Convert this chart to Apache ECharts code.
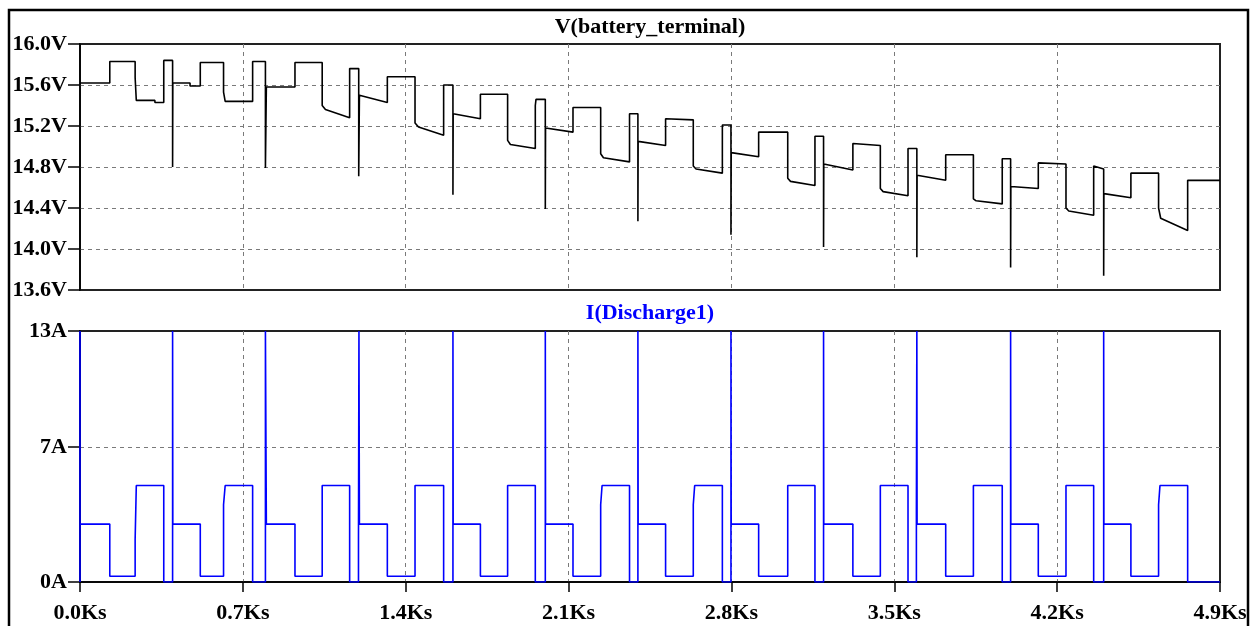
<!DOCTYPE html>
<html>
<head>
<meta charset="utf-8">
<title>Battery terminal voltage and discharge current</title>
<script src="https://cdn.jsdelivr.net/npm/echarts@6/dist/echarts.min.js"></script>
<style>
  html, body { margin: 0; padding: 0; background: #fff; }
  #chart { width: 1252px; height: 626px; }
</style>
</head>
<body>
<div id="chart"></div>
<script>
// Time axis (seconds) and its labels
const timeTicks = [0, 700, 1400, 2100, 2800, 3500, 4200, 4900];
const timeTickLabels = ['0.0Ks', '0.7Ks', '1.4Ks', '2.1Ks', '2.8Ks', '3.5Ks', '4.2Ks', '4.9Ks'];
const voltTickLabels = ['13.6V', '14.0V', '14.4V', '14.8V', '15.2V', '15.6V', '16.0V'];
const ampTicks = [0, 7, 13];
const ampTickLabels = ['0A', '7A', '13A'];

// V(battery_terminal): [time s, volts]
const batteryVoltage = [
  [0,15.62],[128,15.62],[128,15.83],[237,15.83],[237,15.67],[242,15.67],[242,15.45],[322,15.45],[322,15.43],[360,15.43],[360,15.84],[398,15.84],[398,14.80],[399,15.62],
  [473,15.62],[473,15.59],[517,15.59],[517,15.82],[617,15.82],[617,15.53],[624,15.53],[624,15.44],[742,15.44],[742,15.83],[797,15.83],[797,14.79],[801,14.79],[801,15.58],
  [924,15.58],[924,15.82],[1041,15.82],[1041,15.40],[1055,15.36],[1159,15.28],[1159,15.76],[1198,15.76],[1198,14.71],[1201,15.50],
  [1321,15.43],[1321,15.68],[1440,15.68],[1440,15.23],[1455,15.19],[1563,15.11],[1563,15.60],[1603,15.60],[1603,14.53],[1604,15.32],
  [1721,15.27],[1721,15.51],[1838,15.51],[1838,15.06],[1850,15.02],[1957,14.98],[1957,15.40],[1960,15.40],[1960,15.46],[2000,15.46],[2000,14.39],[2001,15.18],
  [2119,15.14],[2119,15.38],[2238,15.38],[2238,14.93],[2250,14.89],[2362,14.85],[2362,15.32],[2398,15.32],[2398,14.27],[2399,15.05],
  [2517,15.01],[2517,15.27],[2636,15.26],[2636,14.81],[2648,14.78],[2761,14.74],[2761,15.21],[2798,15.21],[2798,14.14],[2799,14.94],
  [2917,14.90],[2917,15.14],[3042,15.14],[3042,14.69],[3054,14.66],[3159,14.62],[3159,15.10],[3196,15.10],[3196,14.02],[3197,14.83],
  [3322,14.77],[3322,15.03],[3440,15.01],[3440,14.59],[3452,14.56],[3559,14.52],[3559,14.98],[3597,14.98],[3597,13.92],[3598,14.72],
  [3721,14.67],[3721,14.92],[3840,14.92],[3840,14.49],[3852,14.47],[3964,14.44],[3964,14.88],[4000,14.88],[4000,13.82],[4001,14.61],
  [4119,14.59],[4119,14.84],[4238,14.83],[4238,14.40],[4250,14.37],[4357,14.33],[4357,14.81],[4400,14.78],[4400,13.74],[4401,14.54],
  [4517,14.50],[4517,14.74],[4636,14.74],[4636,14.40],[4645,14.30],[4761,14.18],[4761,14.67],[4900,14.67]
];

// I(Discharge1): [time s, amps]
const dischargeCurrent = [
  [0,0],[0,13],[0,3],[128,3],[128,0.3],[237,0.3],[237,2.2],[242,2.2],[242,5],[360,5],[360,0],[398,0],[398,13],[399,3],
  [517,3],[517,0.3],[617,0.3],[617,4],[624,4],[624,5],[742,5],[742,0],[797,0],[797,13],[801,13],[801,3],
  [924,3],[924,0.3],[1041,0.3],[1041,5],[1159,5],[1159,0],[1197,0],[1197,2.3],[1199,2.3],[1199,13],[1201,3],
  [1321,3],[1321,0.3],[1440,0.3],[1440,5],[1563,5],[1563,0],[1603,0],[1603,13],[1604,3],
  [1721,3],[1721,0.3],[1838,0.3],[1838,5],[1957,5],[1957,0],[2000,0],[2000,13],[2001,3],
  [2119,3],[2119,0.3],[2238,0.3],[2238,4],[2244,4],[2244,5],[2362,5],[2362,0],[2398,0],[2398,13],[2399,3],
  [2517,3],[2517,0.3],[2636,0.3],[2636,4],[2642,4],[2642,5],[2761,5],[2761,0],[2798,0],[2798,13],[2799,3],
  [2917,3],[2917,0.3],[3042,0.3],[3042,5],[3159,5],[3159,0],[3196,0],[3196,13],[3197,3],
  [3322,3],[3322,0.3],[3440,0.3],[3440,5],[3559,5],[3559,0],[3595,0],[3595,3.8],[3597,3.8],[3597,13],[3598,3],
  [3721,3],[3721,0.3],[3840,0.3],[3840,5],[3964,5],[3964,0],[4000,0],[4000,13],[4001,3],
  [4119,3],[4119,0.3],[4238,0.3],[4238,5],[4357,5],[4357,0],[4400,0],[4400,13],[4401,3],
  [4517,3],[4517,0.3],[4636,0.3],[4636,4],[4642,4],[4642,5],[4761,5],[4761,0],[4900,0]
];

const FONT = '"Liberation Serif", "Times New Roman", serif';
const labelStyle = { fontFamily: FONT, fontWeight: 'bold', fontSize: 22, color: '#000' };
// dashed grid, without lines on the plot edges (the frame draws those)
const dashed = {
  show: true, showMinLine: false, showMaxLine: false,
  lineStyle: { color: '#7a7a7a', width: 1, type: [4, 4] }
};

function timeLabel(v) {
  const i = timeTicks.findIndex(t => Math.abs(t - v) < 1e-6);
  return i >= 0 ? timeTickLabels[i] : '';
}
function voltLabel(v) {
  const i = Math.round((v - 13.6) / 0.4);
  return voltTickLabels[i] || '';
}
function ampLabel(v) {
  const i = ampTicks.findIndex(a => Math.abs(a - v) < 1e-6);
  return i >= 0 ? ampTickLabels[i] : '';
}

const chart = echarts.init(document.getElementById('chart'), null, { renderer: 'canvas' });

chart.setOption({
  animation: false,
  backgroundColor: '#fff',
  grid: [
    { left: 80, top: 44, width: 1140, height: 246, show: true, borderColor: '#222', borderWidth: 2, backgroundColor: 'transparent' },
    { left: 80, top: 331, width: 1140, height: 251, show: true, borderColor: '#222', borderWidth: 2, backgroundColor: 'transparent' }
  ],
  xAxis: [
    {
      type: 'value', gridIndex: 0, min: 0, max: 4900, interval: 700,
      axisLine: { show: false }, axisTick: { show: false }, axisLabel: { show: false },
      splitLine: dashed
    },
    {
      type: 'value', gridIndex: 1, min: 0, max: 4900, interval: 700,
      axisLine: { show: true, onZero: false, lineStyle: { color: '#000', width: 1.5 } },
      axisTick: { show: true, length: 10, lineStyle: { color: '#000', width: 1.5 } },
      axisLabel: Object.assign({ margin: 20, formatter: timeLabel }, labelStyle),
      splitLine: dashed
    }
  ],
  yAxis: [
    {
      type: 'value', gridIndex: 0, min: 13.6, max: 16.0, interval: 0.4,
      axisLine: { show: true, lineStyle: { color: '#000', width: 1.5 } },
      axisTick: { show: true, length: 12, lineStyle: { color: '#000', width: 1.5 } },
      axisLabel: Object.assign({ margin: 13, formatter: voltLabel }, labelStyle),
      splitLine: dashed
    },
    {
      type: 'value', gridIndex: 1, min: 0, max: 13, interval: 7,
      axisLine: { show: true, lineStyle: { color: '#000', width: 1.5 } },
      axisTick: { show: true, length: 12, lineStyle: { color: '#000', width: 1.5 } },
      axisLabel: Object.assign({ margin: 13, formatter: ampLabel }, labelStyle),
      splitLine: dashed
    }
  ],
  series: [
    {
      name: 'V(battery_terminal)', type: 'line', xAxisIndex: 0, yAxisIndex: 0,
      data: batteryVoltage, showSymbol: false, symbol: 'none', clip: true,
      lineStyle: { color: '#000', width: 1.6 }, z: 5
    },
    {
      name: 'I(Discharge1)', type: 'line', xAxisIndex: 1, yAxisIndex: 1,
      data: dischargeCurrent, showSymbol: false, symbol: 'none', clip: true,
      lineStyle: { color: '#0000ff', width: 1.6 }, z: 5
    }
  ],
  graphic: [
    {
      type: 'rect', silent: true, z: 100,
      shape: { x: 9, y: 10, width: 1239, height: 640 },
      style: { fill: 'none', stroke: '#000', lineWidth: 2.5 }
    },
    {
      type: 'text', silent: true, z: 100, x: 650, y: 27,
      style: { text: 'V(battery_terminal)', fill: '#000', font: 'bold 22px ' + FONT, align: 'center', verticalAlign: 'middle' }
    },
    {
      type: 'text', silent: true, z: 100, x: 650, y: 313,
      style: { text: 'I(Discharge1)', fill: '#0000ff', font: 'bold 22px ' + FONT, align: 'center', verticalAlign: 'middle' }
    }
  ]
});
</script>
</body>
</html>
